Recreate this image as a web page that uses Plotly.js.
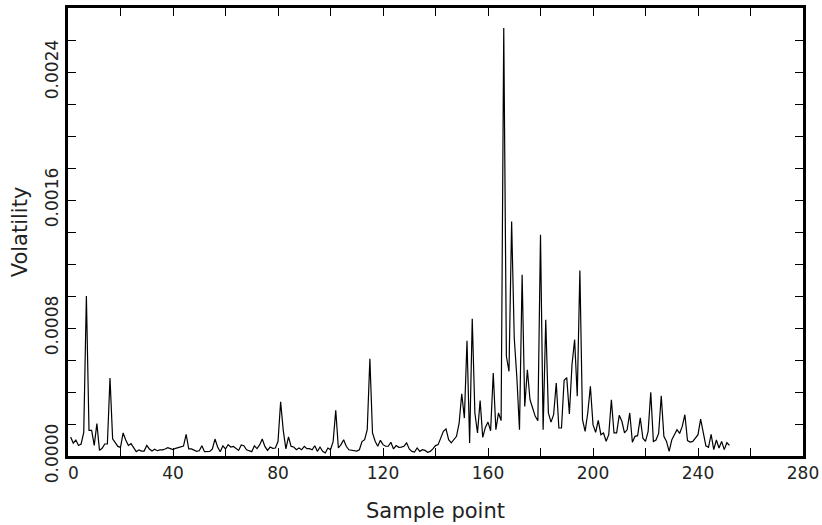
<!DOCTYPE html>
<html>
<head>
<meta charset="utf-8">
<script src="https://cdn.plot.ly/plotly-3.0.1.min.js"></script>
<style>
  html, body { margin: 0; padding: 0; background: #fff; }
  #chart { width: 822px; height: 525px; }
</style>
</head>
<body>
<div id="chart"></div>
<script>
// Volatility per sample point, sample points 1..252
const volatility = [
  1.19e-4, 0.81e-4, 1.00e-4, 0.66e-4, 0.75e-4, 1.48e-4, 10.0e-4, 1.60e-4, 1.60e-4, 0.66e-4,
  2.02e-4, 0.35e-4, 0.48e-4, 0.75e-4, 0.75e-4, 4.87e-4, 1.08e-4, 0.81e-4, 0.60e-4, 0.54e-4,
  1.44e-4, 1.00e-4, 0.66e-4, 0.77e-4, 0.48e-4, 0.27e-4, 0.38e-4, 0.31e-4, 0.31e-4, 0.66e-4,
  0.44e-4, 0.31e-4, 0.42e-4, 0.33e-4, 0.38e-4, 0.38e-4, 0.44e-4, 0.52e-4, 0.46e-4, 0.40e-4,
  0.48e-4, 0.52e-4, 0.60e-4, 0.62e-4, 1.35e-4, 0.44e-4, 0.44e-4, 0.35e-4, 0.29e-4, 0.33e-4,
  0.64e-4, 0.27e-4, 0.29e-4, 0.28e-4, 0.44e-4, 1.06e-4, 0.56e-4, 0.27e-4, 0.64e-4, 0.44e-4,
  0.71e-4, 0.56e-4, 0.60e-4, 0.50e-4, 0.35e-4, 0.69e-4, 0.64e-4, 0.39e-4, 0.31e-4, 0.27e-4,
  0.64e-4, 0.46e-4, 0.69e-4, 1.06e-4, 0.60e-4, 0.35e-4, 0.56e-4, 0.48e-4, 0.50e-4, 0.90e-4,
  3.39e-4, 1.60e-4, 0.45e-4, 1.20e-4, 0.60e-4, 0.56e-4, 0.39e-4, 0.50e-4, 0.39e-4, 0.60e-4,
  0.46e-4, 0.46e-4, 0.39e-4, 0.64e-4, 0.29e-4, 0.56e-4, 0.29e-4, 0.19e-4, 0.50e-4, 0.39e-4,
  0.90e-4, 2.85e-4, 0.50e-4, 0.71e-4, 1.02e-4, 0.61e-4, 0.39e-4, 0.35e-4, 0.35e-4, 0.31e-4,
  0.39e-4, 0.90e-4, 1.02e-4, 1.65e-4, 6.08e-4, 1.44e-4, 0.92e-4, 0.61e-4, 0.98e-4, 0.71e-4,
  0.61e-4, 0.61e-4, 0.86e-4, 0.44e-4, 0.65e-4, 0.54e-4, 0.56e-4, 0.61e-4, 0.82e-4, 0.44e-4,
  0.29e-4, 0.25e-4, 0.50e-4, 0.29e-4, 0.39e-4, 0.35e-4, 0.23e-4, 0.29e-4, 0.44e-4, 0.65e-4,
  0.71e-4, 1.12e-4, 1.54e-4, 1.69e-4, 1.02e-4, 0.82e-4, 1.06e-4, 1.23e-4, 2.06e-4, 3.89e-4,
  2.37e-4, 7.20e-4, 0.81e-4, 8.58e-4, 2.69e-4, 1.44e-4, 3.46e-4, 1.16e-4, 1.79e-4, 2.12e-4,
  1.58e-4, 5.19e-4, 1.64e-4, 2.69e-4, 2.21e-4, 26.75e-4, 6.23e-4, 5.29e-4, 14.66e-4, 7.37e-4,
  4.87e-4, 1.64e-4, 11.33e-4, 3.10e-4, 5.39e-4, 3.52e-4, 3.00e-4, 2.48e-4, 2.21e-4, 13.83e-4,
  1.64e-4, 8.52e-4, 2.69e-4, 2.12e-4, 2.58e-4, 4.56e-4, 1.75e-4, 1.75e-4, 4.73e-4, 4.90e-4,
  2.62e-4, 5.70e-4, 7.27e-4, 3.73e-4, 11.6e-4, 2.27e-4, 1.54e-4, 2.69e-4, 4.35e-4, 1.96e-4,
  1.48e-4, 2.23e-4, 1.33e-4, 1.44e-4, 0.92e-4, 1.33e-4, 3.52e-4, 1.44e-4, 1.44e-4, 2.54e-4,
  2.17e-4, 1.44e-4, 1.64e-4, 2.69e-4, 0.86e-4, 1.23e-4, 1.27e-4, 2.38e-4, 1.11e-4, 0.91e-4,
  1.54e-4, 3.98e-4, 0.91e-4, 1.00e-4, 1.41e-4, 3.77e-4, 1.23e-4, 0.91e-4, 0.29e-4, 1.00e-4,
  1.33e-4, 1.64e-4, 1.41e-4, 1.85e-4, 2.58e-4, 0.96e-4, 0.87e-4, 0.91e-4, 1.12e-4, 1.33e-4,
  2.31e-4, 1.41e-4, 0.64e-4, 0.54e-4, 1.35e-4, 0.40e-4, 1.00e-4, 0.50e-4, 0.91e-4, 0.40e-4,
  0.83e-4, 0.66e-4
];
const firstSample = 1;
const samplePoints = volatility.map((_, k) => firstSample + k);

const xTickVals = [0, 40, 80, 120, 160, 200, 240, 280];
const xTickText = ["\u00a0\u00a00", "40", "80", "120", "160", "200", "240", "280"];
const yTickVals = [0, 0.0008, 0.0016, 0.0024];
const yTickText = ["0.0000", "0.0008", "0.0016", "0.0024"];

const xTitle = "Sample point";
const yTitle = "Volatility";

const FONT = "DejaVu Sans, sans-serif";

const trace = {
  x: samplePoints,
  y: volatility,
  type: "scatter",
  mode: "lines",
  line: { color: "#000", width: 1.2 },
  hoverinfo: "x+y"
};

const axisCommon = {
  showgrid: false,
  zeroline: false,
  showline: true,
  linecolor: "#000",
  linewidth: 3,
  mirror: "ticks",
  ticks: "inside",
  ticklen: 8,
  tickwidth: 1,
  tickcolor: "#000",
  tickfont: { family: FONT, size: 17, color: "#222" }
};

const layout = {
  width: 822,
  height: 525,
  margin: { l: 68, r: 19, t: 8, b: 69 },
  paper_bgcolor: "#fff",
  plot_bgcolor: "#fff",
  showlegend: false,
  xaxis: Object.assign({}, axisCommon, {
    range: [0, 280],
    tickmode: "array",
    tickvals: xTickVals,
    ticktext: xTickText,
    minor: { dtick: 20, tick0: 0, ticks: "inside", ticklen: 8, tickwidth: 1, tickcolor: "#000", showgrid: false },
    title: { text: xTitle, font: { family: FONT, size: 21, color: "#222" }, standoff: 21 },
    automargin: false
  }),
  yaxis: Object.assign({}, axisCommon, {
    range: [0, 0.0028],
    tickmode: "array",
    tickvals: yTickVals,
    ticktext: yTickText,
    tickangle: -90,
    minor: { dtick: 0.0002, tick0: 0, ticks: "inside", ticklen: 8, tickwidth: 1, tickcolor: "#000", showgrid: false },
    title: { text: yTitle, font: { family: FONT, size: 21, color: "#222" }, standoff: 9 },
    automargin: false
  })
};

Plotly.newPlot("chart", [trace], layout, { displayModeBar: false, staticPlot: true });
</script>
</body>
</html>
